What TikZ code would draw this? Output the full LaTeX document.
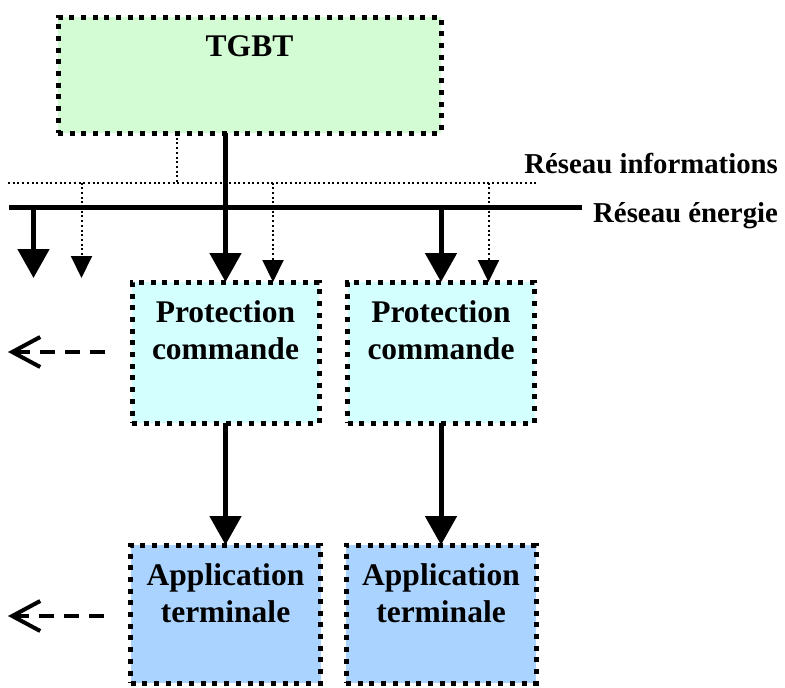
\documentclass[tikz,border=0pt]{standalone}
\usepackage{fontspec}
\setmainfont{Liberation Serif}
\usetikzlibrary{arrows.meta}
\definecolor{tgbtgreen}{RGB}{212,252,212}
\definecolor{protcyan}{RGB}{212,255,255}
\definecolor{appblue}{RGB}{170,212,255}
\tikzset{
  dotbox/.style={draw, line width=5pt, dash pattern=on 5pt off 6.7pt,
    inner sep=0pt, outer sep=0pt, minimum width=187pt, minimum height=141pt},
  boxtext/.style={font=\fontsize{31.5}{36.5}\selectfont\bfseries, align=center,
    inner sep=0pt, anchor=north, yshift=-18.5pt},
  netlabel/.style={font=\fontsize{28.8}{34}\selectfont\bfseries, inner sep=0pt},
  bus/.style={line width=5.7pt},
  info/.style={line width=2pt, dash pattern=on 2pt off 2.7pt},
  power/.style={line width=5pt, -{Triangle[length=29pt,width=31pt]}},
  infoarrow/.style={info, -{Triangle[length=22pt,width=21pt]}},
  outarrow/.style={line width=3.5pt, dash pattern=on 15pt off 10pt,
    -{Straight Barb[length=28pt,width=30pt,line width=4pt]}}
}
\begin{document}
\begin{tikzpicture}[x=1pt, y=-1pt]
\useasboundingbox (0,0) rectangle (785,688);
% boxes
\node[dotbox, fill=tgbtgreen, minimum width=383pt, minimum height=116pt,
  label={[boxtext]north:TGBT}] (tgbt) at (249.5,75) {};
\node[dotbox, fill=protcyan, label={[boxtext]north:Protection\\commande}] (prot1) at (225.5,352.5) {};
\node[dotbox, fill=protcyan, label={[boxtext]north:Protection\\commande}] (prot2) at (441,352.5) {};
\node[dotbox, fill=appblue, minimum width=190pt, minimum height=138pt,
  label={[boxtext]north:Application\\terminale}] (app1) at (225.5,614) {};
\node[dotbox, fill=appblue, minimum width=190pt, minimum height=138pt,
  label={[boxtext]north:Application\\terminale}] (app2) at (441,614) {};
% networks
\coordinate (infowest) at (8,182.5);
\coordinate (infoeast) at (537,182.5);
\coordinate (buswest) at (9,207.5);
\coordinate (buseast) at (582,207.5);
\draw[info] (infowest) -- (infoeast);
\draw[bus] (buswest) -- (buseast);
\node[netlabel, anchor=base west] (nrjlbl) at ([xshift=11pt,yshift=-14.5pt]buseast) {Réseau énergie};
\node[netlabel, anchor=base east] (infolbl) at ([yshift=49pt]nrjlbl.base east) {Réseau informations};
% TGBT links
\draw[info] ([xshift=-72.5pt]tgbt.south) coordinate (tgbtinfo) -- (tgbtinfo |- infowest);
\draw[power] (tgbt.south -| prot1.north) -- (prot1.north);
% drops to the left
\coordinate (drop1) at (33.5,278);
\coordinate (drop2) at (81.5,278);
\draw[power] (drop1 |- buswest) -- (drop1);
\draw[infoarrow] (drop2 |- infowest) -- (drop2);
% drops to the protections
\coordinate (p1info) at ([xshift=47.5pt]prot1.north);
\coordinate (p2info) at ([xshift=47.5pt]prot2.north);
\draw[infoarrow] (p1info |- infowest) -- (p1info);
\draw[power] (prot2.north |- buswest) -- (prot2.north);
\draw[infoarrow] (p2info |- infowest) -- (p2info);
% protections to applications
\draw[power] (prot1) -- (app1);
\draw[power] (prot2) -- (app2);
% outgoing
\coordinate (protout) at (8,352);
\coordinate (appout) at (8,616);
\draw[outarrow] ([xshift=-27pt]prot1.west |- protout) -- (protout);
\draw[outarrow] ([xshift=-27pt]app1.west |- appout) -- (appout);
\end{tikzpicture}
\end{document}
